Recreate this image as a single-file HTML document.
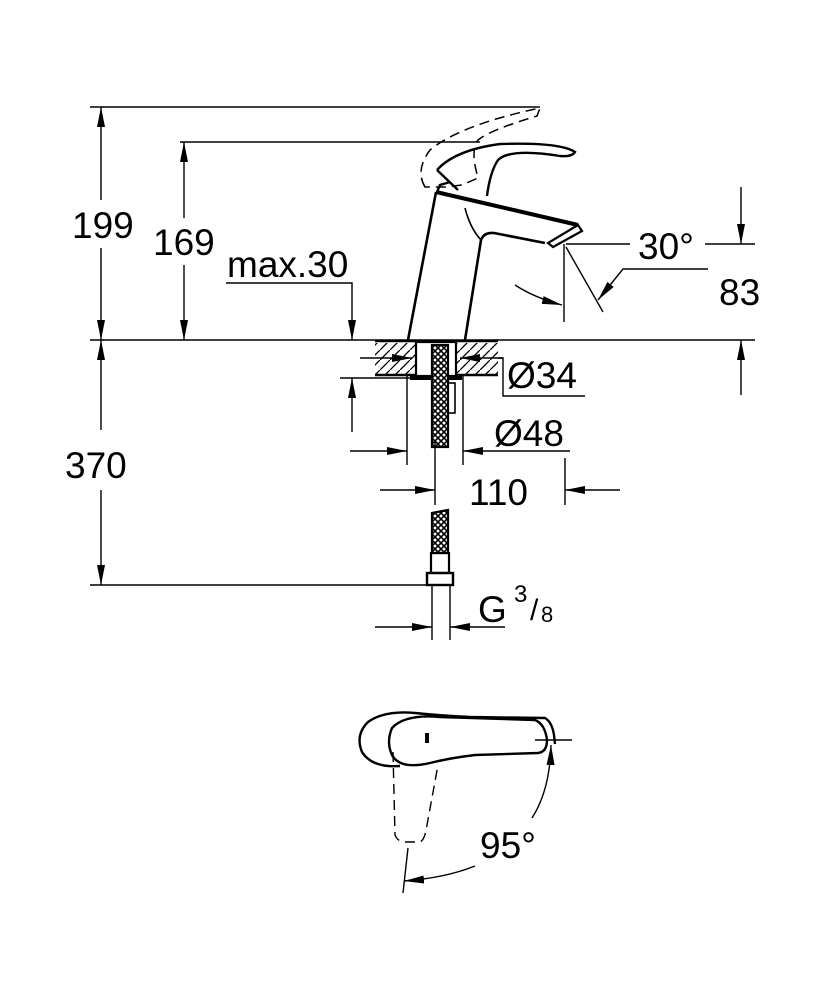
<!DOCTYPE html>
<html><head><meta charset="utf-8"><style>
html,body{margin:0;padding:0;background:#fff;width:834px;height:1000px;overflow:hidden}
svg{display:block}
text{font-family:"Liberation Sans",sans-serif;fill:#000}
</style></head><body>
<svg width="834" height="1000" viewBox="0 0 834 1000" xmlns="http://www.w3.org/2000/svg">
<defs>
<marker id="a" viewBox="0 0 20 8" refX="20" refY="4" markerWidth="20" markerHeight="8" markerUnits="userSpaceOnUse" orient="auto"><path d="M0,0 L20,4 L0,8 Z" fill="#000"/></marker>
<pattern id="h" width="10" height="10" patternUnits="userSpaceOnUse"><path d="M0,10 L10,0" stroke="#000" stroke-width="1.3"/></pattern>
<pattern id="m" width="6" height="6" patternUnits="userSpaceOnUse"><rect width="6" height="6" fill="#fff"/><path d="M0,0 L6,6 M6,0 L0,6" stroke="#000" stroke-width="1.6"/></pattern>
</defs>
<g stroke="#000" stroke-width="1.4" fill="none">
<line x1="90" y1="107" x2="540" y2="107"/>
<line x1="180" y1="142" x2="480" y2="142"/>
<line x1="90" y1="340" x2="755" y2="340"/>
<line x1="90" y1="585" x2="430" y2="585"/>
<line x1="101" y1="200" x2="101" y2="107" marker-end="url(#a)"/>
<line x1="101" y1="248" x2="101" y2="340" marker-end="url(#a)"/>
<line x1="184" y1="218" x2="184" y2="142" marker-end="url(#a)"/>
<line x1="184" y1="265" x2="184" y2="340" marker-end="url(#a)"/>
<polyline points="226,283 352,283 352,340" marker-end="url(#a)"/>
<line x1="101" y1="430" x2="101" y2="340" marker-end="url(#a)"/>
<line x1="101" y1="490" x2="101" y2="585" marker-end="url(#a)"/>
<g stroke-width="2.6">
<path d="M408,340 L436,192"/>
<path d="M465,340 L481,240 Q484,232 494,233 L545,243"/>
<path d="M436,192 L578,225" stroke-width="4"/>
<path d="M578,225 L582,231 L553,247 L548,243 Z" stroke-width="2.2"/>
<path d="M465,208 Q470,228 481,240" stroke-width="1.6"/>
<path d="M437,192 L440,185 L450,182 M437,170 Q455,150 500,144 Q560,142 575,152 Q572,157 560,156 Q510,148 498,160 Q490,172 487,196" stroke-width="2.4"/>
<path d="M437,170 L458,190" stroke-width="2.4"/>
</g>
<path d="M425,187 Q415,170 430,150 Q460,125 540,108 L537,116 Q490,130 478,140 Q470,150 478,178 L462,185 L445,187 Z" stroke-dasharray="10,6" stroke-width="1.5"/>
<line x1="566" y1="244" x2="630" y2="244"/>
<line x1="705" y1="244" x2="755" y2="244"/>
<line x1="564" y1="244" x2="564" y2="322"/>
<line x1="566" y1="247" x2="603" y2="312"/>
<path d="M515,285 Q535,298 562,305" marker-end="url(#a)"/>
<polyline points="708,269 623,269 598,300" marker-end="url(#a)"/>
<line x1="741" y1="187" x2="741" y2="244" marker-end="url(#a)"/>
<line x1="741" y1="395" x2="741" y2="340" marker-end="url(#a)"/>
<rect x="375" y="343" width="123" height="32" fill="url(#h)" stroke="none"/>
<line x1="375" y1="375" x2="498" y2="375" stroke-width="2.4"/>
<line x1="375" y1="341" x2="498" y2="341" stroke-width="2.4"/>
<rect x="416" y="342" width="40" height="34" fill="#fff" stroke-width="2.2"/>
<rect x="410" y="376" width="52" height="4" fill="#000" stroke="none"/>
<rect x="432" y="345" width="16" height="102" fill="url(#m)" stroke-width="2.2"/>
<rect x="448" y="383" width="7" height="30" stroke-width="1.6"/>
<line x1="360" y1="358" x2="412" y2="358" marker-end="url(#a)"/>
<line x1="503" y1="358" x2="460" y2="358" marker-end="url(#a)"/>
<polyline points="498,358 503,358 503,396 585,396"/>
<line x1="340" y1="378" x2="410" y2="378"/>
<line x1="352" y1="432" x2="352" y2="378" marker-end="url(#a)"/>
<line x1="407" y1="376" x2="407" y2="465"/>
<line x1="463" y1="376" x2="463" y2="465"/>
<line x1="350" y1="451" x2="407" y2="451" marker-end="url(#a)"/>
<line x1="570" y1="451" x2="463" y2="451" marker-end="url(#a)"/>
<line x1="435" y1="440" x2="435" y2="505"/>
<line x1="565" y1="458" x2="565" y2="505"/>
<line x1="380" y1="490" x2="435" y2="490" marker-end="url(#a)"/>
<line x1="620" y1="490" x2="565" y2="490" marker-end="url(#a)"/>
<path d="M432,513 L448,510 L448,553 L432,553 Z" fill="url(#m)" stroke-width="2.2"/>
<rect x="431" y="553" width="18" height="20" stroke-width="2.2"/>
<rect x="427" y="573" width="26" height="12" stroke-width="2.4"/>
<line x1="432" y1="585" x2="432" y2="640"/>
<line x1="450" y1="585" x2="450" y2="640"/>
<line x1="375" y1="627" x2="432" y2="627" marker-end="url(#a)"/>
<line x1="505" y1="627" x2="450" y2="627" marker-end="url(#a)"/>
<g stroke-width="2.4">
<path d="M400,766 Q372,768 362,752 Q355,735 368,722 Q385,710 415,713 Q445,716 470,717 L545,718 Q552,722 554,735 L555,744"/>
<path d="M392,728 Q405,714 440,717 L535,720 Q545,724 547,740 Q547,752 538,753 L475,755 Q450,758 430,763 Q400,770 392,755 Q386,742 392,728 Z"/>
</g>
<rect x="425" y="733" width="4" height="10" fill="#000" stroke="none"/>
<path d="M393,752 L395,835 Q398,842 405,842 L420,842 Q425,840 427,825 L438,765" stroke-dasharray="10,6"/>
<line x1="408" y1="848" x2="403" y2="893"/>
<line x1="535" y1="740" x2="572" y2="740"/>
<path d="M532,818 Q550,790 551,745" marker-end="url(#a)"/>
<path d="M475,866 Q445,878 404,881" marker-end="url(#a)"/>
</g>
<g font-size="37">
<text x="72" y="238">199</text>
<text x="153" y="255">169</text>
<text x="227" y="277">max.30</text>
<text x="65" y="478">370</text>
<text x="638" y="259">30°</text>
<text x="719" y="305">83</text>
<text x="507" y="388">Ø34</text>
<text x="494" y="446">Ø48</text>
<text x="469" y="505">110</text>
<text x="478" y="622">G</text>
<text x="480" y="858">95°</text>
</g>
<text x="514" y="602" font-size="24">3</text>
<text x="530" y="620" font-size="30">/</text>
<text x="541" y="622" font-size="22">8</text>
</svg>
</body></html>
